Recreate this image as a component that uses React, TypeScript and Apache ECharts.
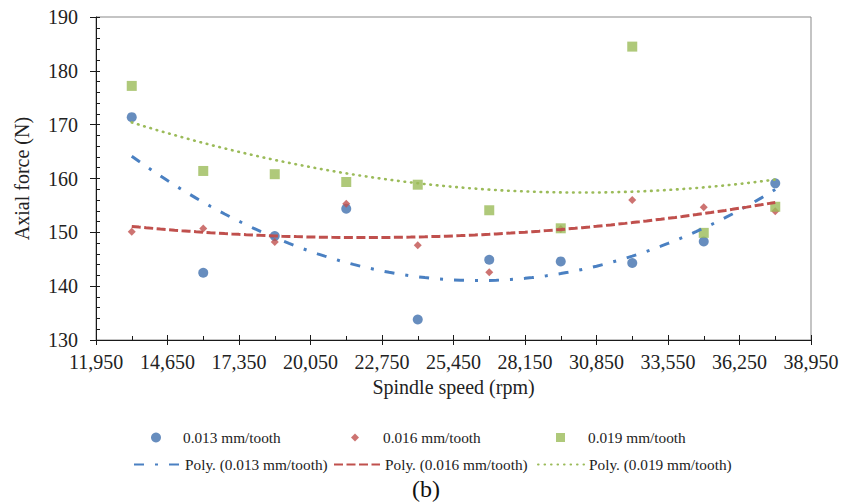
import React, { useEffect, useRef } from 'react';
import * as echarts from 'echarts';

const speeds = [13300, 16000, 18700, 21400, 24100, 26800, 29500, 32200, 34900, 37600];
const force013 = [171.4, 142.5, 149.3, 154.4, 133.8, 144.9, 144.6, 144.3, 148.3, 159.1];
const force016 = [150.1, 150.7, 148.2, 155.3, 147.6, 142.6, 150.6, 156.0, 154.65, 153.9];
const force019 = [177.2, 161.4, 160.8, 159.35, 158.85, 154.1, 150.75, 184.5, 149.9, 154.75];
const seriesNames = ['0.013 mm/tooth', '0.016 mm/tooth', '0.019 mm/tooth'];
const trendNames = seriesNames.map((n) => `Poly. (${n})`);
const xMin = 11950;
const xMax = 38950;
const xStep = 2700;
const yMin = 130;
const yMax = 190;
const yStep = 10;

const FONT = 'Liberation Serif';

function quadFit(xs: number[], ys: number[]) {
  const x0 = xs[0];
  const sc = 2700;
  const S = [0, 0, 0, 0, 0];
  const T = [0, 0, 0];
  xs.forEach((x, i) => {
    const t = (x - x0) / sc;
    for (let k = 0; k < 5; k++) S[k] += Math.pow(t, k);
    for (let k = 0; k < 3; k++) T[k] += ys[i] * Math.pow(t, k);
  });
  const M = [
    [S[0], S[1], S[2], T[0]],
    [S[1], S[2], S[3], T[1]],
    [S[2], S[3], S[4], T[2]],
  ];
  for (let c = 0; c < 3; c++) {
    for (let r = c + 1; r < 3; r++) {
      const f = M[r][c] / M[c][c];
      for (let k = c; k < 4; k++) M[r][k] -= f * M[c][k];
    }
  }
  const coef = [0, 0, 0];
  for (let r = 2; r >= 0; r--) {
    let v = M[r][3];
    for (let k = r + 1; k < 3; k++) v -= M[r][k] * coef[k];
    coef[r] = v / M[r][r];
  }
  return (x: number) => {
    const t = (x - x0) / sc;
    return coef[0] + coef[1] * t + coef[2] * t * t;
  };
}

function trend(ys: number[]) {
  const f = quadFit(speeds, ys);
  const a = speeds[0];
  const b = speeds[speeds.length - 1];
  const n = 90;
  const out: number[][] = [];
  for (let i = 0; i <= n; i++) {
    const x = a + ((b - a) * i) / n;
    out.push([x, f(x)]);
  }
  return out;
}

const zip = (ys: number[]) => speeds.map((x, i) => [x, ys[i]]);

export default function App() {
  const ref = useRef<HTMLDivElement>(null);
  useEffect(() => {
    if (!ref.current) return;
    const chart = echarts.init(ref.current, undefined, { renderer: 'svg' });
    const axisColor = '#1a1a1a';
    const labelStyle = { fontFamily: FONT, fontSize: 20, color: '#222' };
    const legendText = { fontFamily: FONT, fontSize: 15.3, color: '#222' };
    const mkMarkLegend = (name: string, cx: number, tx: number, top: number, h: number) => {
      const left = Math.round(cx - h / 2);
      const pad = tx - (left + h + 5);
      return {
        data: [name],
        left,
        top,
        padding: 0,
        itemGap: 0,
        itemWidth: h,
        itemHeight: h,
        textStyle: { ...legendText, padding: [0, 0, 0, pad] },
        selectedMode: false,
      };
    };
    const mkLineLegend = (name: string, left: number, top: number) => ({
      data: [name],
      left,
      top,
      padding: 0,
      itemGap: 0,
      itemWidth: 46,
      itemHeight: 14,
      itemStyle: { opacity: 0 },
      textStyle: legendText,
      selectedMode: false,
    });
    chart.setOption({
      animation: false,
      backgroundColor: '#fff',
      grid: {
        left: 96,
        top: 17,
        width: 715,
        height: 323,
        show: true,
        borderColor: '#898989',
        borderWidth: 1,
        containLabel: false,
      },
      xAxis: [
        {
          type: 'value',
          min: xMin,
          max: xMax,
          interval: xStep,
          position: 'bottom',
          name: 'Spindle speed (rpm)',
          nameLocation: 'middle',
          nameGap: 37,
          nameTextStyle: { fontFamily: FONT, fontSize: 20, color: '#222' },
          axisLine: { show: true, onZero: false, lineStyle: { color: axisColor, width: 1 } },
          axisTick: { show: true, inside: false, length: 5, lineStyle: { color: axisColor } },
          axisLabel: {
            ...labelStyle,
            margin: 12,
            formatter: (v: number) => v.toLocaleString('en-US'),
          },
          splitLine: { show: false },
        },
        {
          type: 'value',
          min: xMin,
          max: xMax,
          interval: xStep,
          position: 'bottom',
          axisLine: { show: false, onZero: false },
          axisTick: { show: true, inside: true, length: 5, lineStyle: { color: axisColor } },
          minorTick: { show: true, splitNumber: 2, length: 4, lineStyle: { color: axisColor } },
          axisLabel: { show: false },
          splitLine: { show: false },
        },
      ],
      yAxis: [
        {
          type: 'value',
          min: yMin,
          max: yMax,
          interval: yStep,
          position: 'left',
          name: 'Axial force (N)',
          nameLocation: 'middle',
          nameGap: 64,
          nameTextStyle: { fontFamily: FONT, fontSize: 20, color: '#222' },
          axisLine: { show: true, onZero: false, lineStyle: { color: axisColor, width: 1 } },
          axisTick: { show: true, inside: false, length: 6, lineStyle: { color: axisColor } },
          axisLabel: { ...labelStyle, margin: 18 },
          splitLine: { show: false },
        },
        {
          type: 'value',
          min: yMin,
          max: yMax,
          interval: yStep,
          position: 'left',
          axisLine: { show: false, onZero: false },
          axisTick: { show: true, inside: true, length: 4, lineStyle: { color: axisColor } },
          minorTick: { show: true, splitNumber: 5, length: 4, lineStyle: { color: axisColor } },
          axisLabel: { show: false },
          splitLine: { show: false },
        },
      ],
      legend: [
        mkMarkLegend(seriesNames[0], 156, 183, 430, 10),
        mkMarkLegend(seriesNames[1], 355, 383, 430, 8),
        mkMarkLegend(seriesNames[2], 560, 588, 430, 9),
        mkLineLegend(trendNames[0], 133, 457),
        mkLineLegend(trendNames[1], 333, 457),
        mkLineLegend(trendNames[2], 537, 457),
      ],
      graphic: [
        {
          type: 'text',
          x: 426,
          y: 489,
          style: {
            text: '(b)',
            font: `24px "Liberation Serif"`,
            fill: '#111',
            textAlign: 'center',
            textVerticalAlign: 'middle',
          },
        },
      ],
      series: [
        {
          name: seriesNames[0],
          type: 'scatter',
          data: zip(force013),
          symbol: 'circle',
          symbolSize: 10,
          itemStyle: { color: '#4170AE' },
          z: 2,
        },
        {
          name: seriesNames[1],
          type: 'scatter',
          data: zip(force016),
          symbol: 'diamond',
          symbolSize: 8,
          itemStyle: { color: '#C0504D' },
          z: 3,
        },
        {
          name: seriesNames[2],
          type: 'scatter',
          data: zip(force019),
          symbol: 'rect',
          symbolSize: 10,
          itemStyle: { color: '#9BBB59' },
          z: 4,
        },
        {
          name: trendNames[0],
          type: 'line',
          data: trend(force013),
          symbol: 'none',
          showSymbol: false,
          lineStyle: { color: '#4A80C2', width: 3, type: [10, 11, 3, 11] },
          itemStyle: { color: '#4A80C2' },
          z: 5,
        },
        {
          name: trendNames[1],
          type: 'line',
          data: trend(force016),
          symbol: 'none',
          showSymbol: false,
          lineStyle: { color: '#C0504D', width: 3, type: [9, 3.5] },
          itemStyle: { color: '#C0504D' },
          z: 5,
        },
        {
          name: trendNames[2],
          type: 'line',
          data: trend(force019),
          symbol: 'none',
          showSymbol: false,
          lineStyle: { color: '#9BBB59', width: 2.6, type: [0.6, 5.9], cap: 'round' },
          itemStyle: { color: '#9BBB59' },
          z: 5,
        },
      ],
    });
    return () => chart.dispose();
  }, []);
  return <div ref={ref} style={{ width: 843, height: 504, position: 'absolute', left: 0, top: 0 }} />;
}
